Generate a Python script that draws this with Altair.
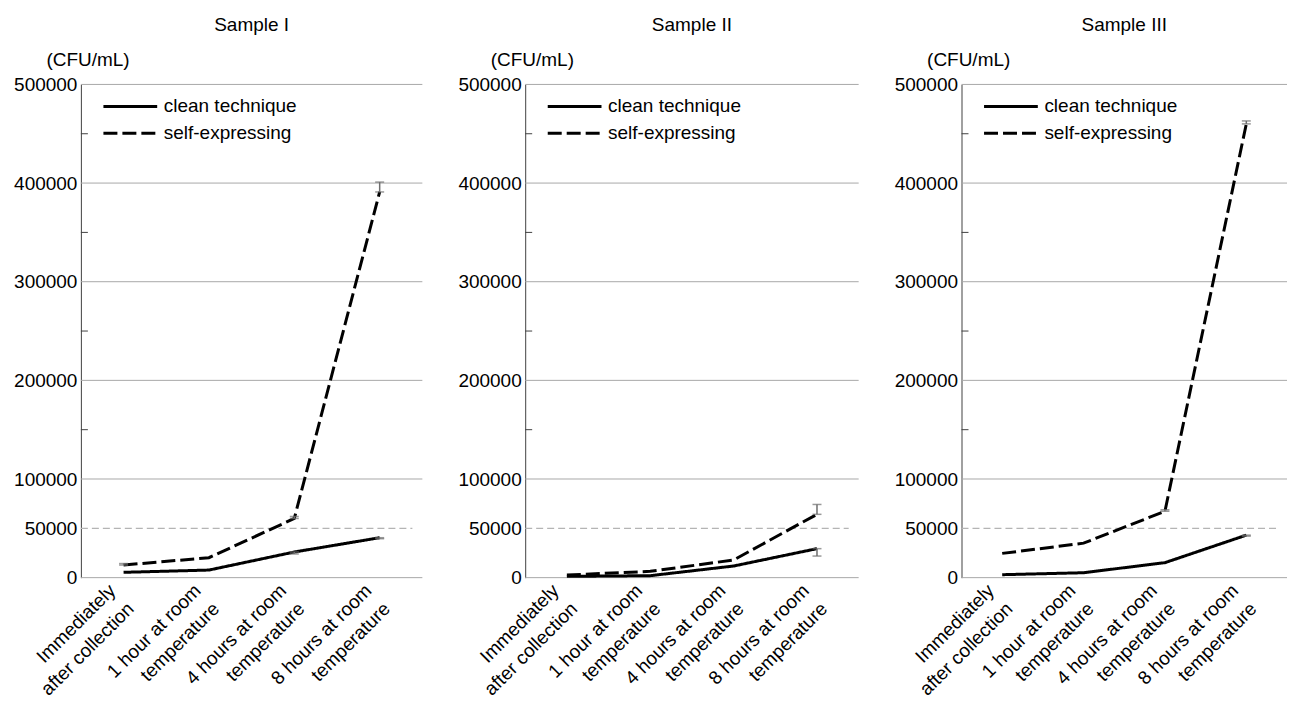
import altair as alt
import pandas as pd

FONT = "Liberation Sans"

categories = [
    "Immediately|after collection",
    "1 hour at room|temperature",
    "4 hours at room|temperature",
    "8 hours at room|temperature",
]
series_names = ["clean technique", "self-expressing"]
sample_names = ["Sample I", "Sample II", "Sample III"]

# Sample I
s1_clean = [5400, 7700, 26000, 40500]
s1_clean_err = [0, 0, 2000, 1000]
s1_self = [12800, 20200, 60000, 391000]
s1_self_err = [1500, 0, 2000, 10000]

# Sample II
s2_clean = [1300, 2000, 11800, 29400]
s2_clean_err = [0, 0, 0, 7500]
s2_self = [2700, 6400, 17900, 64200]
s2_self_err = [0, 0, 0, 10000]

# Sample III
s3_clean = [3000, 5000, 15200, 43100]
s3_clean_err = [0, 0, 0, 1000]
s3_self = [24600, 35000, 67300, 460000]
s3_self_err = [0, 0, 1500, 3000]

y_labeled = [0, 50000, 100000, 200000, 300000, 400000, 500000]
y_minor = [150000, 250000, 350000, 450000]
y_grid = [0, 100000, 200000, 300000, 400000, 500000]
y_ref = [50000]

PLOT_H = 494
FS = 19


def panel(name, clean, clean_err, selfv, self_err, width):
    rows = []
    for i, c in enumerate(categories):
        rows.append(dict(cat=c, series=series_names[0], value=clean[i],
                         lo=clean[i] - clean_err[i], hi=clean[i], err=clean_err[i]))
        rows.append(dict(cat=c, series=series_names[1], value=selfv[i],
                         lo=selfv[i], hi=selfv[i] + self_err[i], err=self_err[i]))
    df = pd.DataFrame(rows)
    err_df = df[df["err"] > 0]

    y_scale = alt.Scale(domain=[0, 500000], nice=False, zero=True)
    y_axis = alt.Axis(
        values=y_labeled, format="d", ticks=False, grid=False, domainColor="#404040",
        labelFont=FONT, labelFontSize=FS, labelColor="black", labelPadding=4,
        title="(CFU/mL)", titleFont=FONT, titleFontSize=FS, titleFontWeight="normal",
        titleColor="black", titleAngle=0, titleAlign="left", titleBaseline="middle",
        titleX=-35, titleY=-25,
    )
    x_enc = alt.X(
        "cat:N", sort=categories, scale=alt.Scale(type="point", padding=0.5),
        axis=alt.Axis(
            title=None, domain=False, ticks=False, labelAngle=-45,
            labelAlign="right", labelBaseline="top", labelPadding=3,
            labelOffset=-18,
            labelFont=FONT, labelFontSize=FS, labelColor="black",
            labelExpr="split(datum.label, '|')", labelLineHeight=26,
        ),
    )

    grid = alt.Chart(pd.DataFrame({"v": y_grid})).mark_rule(
        color="#a8a8a8", strokeWidth=1
    ).encode(y=alt.Y("v:Q", scale=y_scale, axis=y_axis))

    ref = alt.Chart(pd.DataFrame({"v": y_ref})).mark_rule(
        color="#b4b4b4", strokeWidth=1.2, strokeDash=[7, 4]
    ).encode(y=alt.Y("v:Q", scale=y_scale, axis=y_axis),
             x=alt.value(0), x2=alt.value(width - 10))

    minor = alt.Chart(pd.DataFrame({"v": y_minor})).mark_rule(
        color="#404040", strokeWidth=1
    ).encode(y=alt.Y("v:Q", scale=y_scale, axis=y_axis),
             x=alt.value(0), x2=alt.value(7))

    lines = alt.Chart(df).mark_line(color="black", strokeWidth=3).encode(
        x=x_enc,
        y=alt.Y("value:Q", scale=y_scale, axis=y_axis),
        strokeDash=alt.StrokeDash(
            "series:N",
            scale=alt.Scale(domain=series_names, range=[[1, 0], [14, 5]]),
            legend=alt.Legend(
                title=None, orient="none", legendX=21, legendY=12,
                symbolType="stroke", symbolSize=2900, symbolStrokeWidth=3,
                symbolStrokeColor="black", labelFont=FONT, labelFontSize=FS,
                labelColor="black", labelOffset=5, clipHeight=20,
                rowPadding=7, padding=0,
            ),
        ),
        detail="series:N",
    )

    bars = alt.Chart(err_df).mark_rule(color="#6e6e6e", strokeWidth=1.5).encode(
        x=x_enc, y=alt.Y("lo:Q", scale=y_scale, axis=y_axis), y2="hi:Q"
    )
    cap_lo = alt.Chart(err_df).mark_tick(color="#6e6e6e", thickness=1.5, size=9).encode(
        x=x_enc, y=alt.Y("lo:Q", scale=y_scale, axis=y_axis)
    )
    cap_hi = alt.Chart(err_df).mark_tick(color="#6e6e6e", thickness=1.5, size=9).encode(
        x=x_enc, y=alt.Y("hi:Q", scale=y_scale, axis=y_axis)
    )

    return alt.layer(grid, ref, minor, lines, bars, cap_lo, cap_hi).properties(
        width=width, height=PLOT_H,
        title=alt.TitleParams(name, font=FONT, fontSize=FS, fontWeight="normal",
                              color="black", anchor="middle", frame="group", offset=16),
    )


p1 = panel(sample_names[0], s1_clean, s1_clean_err, s1_self, s1_self_err, 342)
p2 = panel(sample_names[1], s2_clean, s2_clean_err, s2_self, s2_self_err, 334)
p3 = panel(sample_names[2], s3_clean, s3_clean_err, s3_self, s3_self_err, 326)

chart = alt.hconcat(p1, p2, p3, spacing=103, bounds="flush").resolve_scale(
    strokeDash="independent"
).resolve_legend(strokeDash="independent").properties(
    padding={"left": 5, "top": 7, "right": 0, "bottom": 0}
).configure_view(stroke=None)

chart.save("out.html", embed_options={"renderer": "svg", "actions": False})
